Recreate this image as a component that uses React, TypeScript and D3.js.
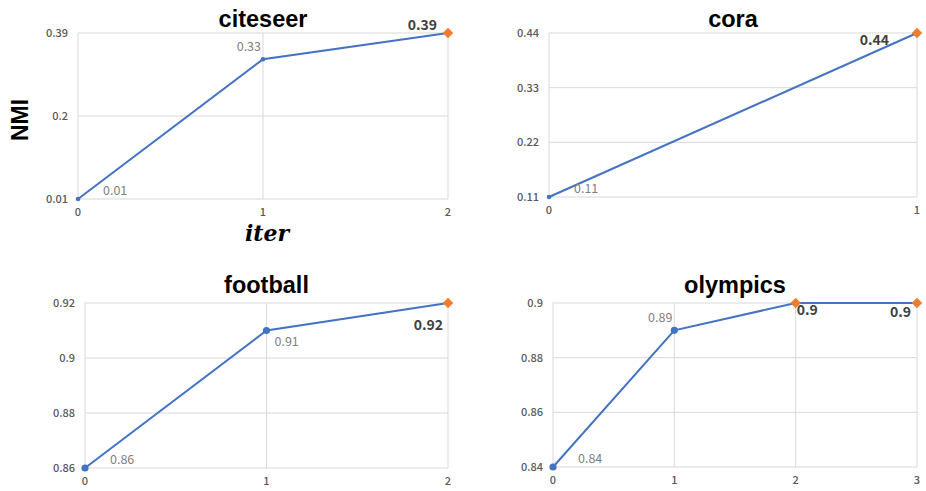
import * as d3 from "d3";
import React, { useEffect, useRef } from "react";

// NMI per iteration, one small chart per dataset
const citeseerNmi = [0.01, 0.33, 0.39];
const coraNmi = [0.11, 0.44];
const footballNmi = [0.86, 0.91, 0.92];
const olympicsNmi = [0.84, 0.89, 0.9, 0.9];

const citeseerTicks = [0.01, 0.2, 0.39];
const coraTicks = [0.11, 0.22, 0.33, 0.44];
const footballTicks = [0.86, 0.88, 0.9, 0.92];
const olympicsTicks = [0.84, 0.86, 0.88, 0.9];

// where each data label sits relative to its point
const citeseerPlace = ["right", "aboveLeft", "aboveLeftBold"];
const coraPlace = ["right", "belowLeftBold"];
const footballPlace = ["right", "belowRight", "belowLeftBold"];
const olympicsPlace = ["right", "aboveLeft", "belowRightBold", "belowLeftBold"];

// indices of the best (orange diamond) points
const citeseerBest = [2];
const coraBest = [1];
const footballBest = [2];
const olympicsBest = [2, 3];

interface Panel {
  title: string;
  values: number[];
  ticks: number[];
  place: string[];
  best: number[];
  box: { left: number; right: number; top: number; bottom: number };
  dotR: number;
  titleGap: number;
}

const panels: Panel[] = [
  { title: "citeseer", values: citeseerNmi, ticks: citeseerTicks, place: citeseerPlace, best: citeseerBest,
    box: { left: 78, right: 448, top: 33, bottom: 199 }, dotR: 2.3, titleGap: 6 },
  { title: "cora", values: coraNmi, ticks: coraTicks, place: coraPlace, best: coraBest,
    box: { left: 549, right: 917, top: 33, bottom: 197 }, dotR: 2.3, titleGap: 6 },
  { title: "football", values: footballNmi, ticks: footballTicks, place: footballPlace, best: footballBest,
    box: { left: 85, right: 448, top: 303, bottom: 468 }, dotR: 3.6, titleGap: 10 },
  { title: "olympics", values: olympicsNmi, ticks: olympicsTicks, place: olympicsPlace, best: olympicsBest,
    box: { left: 553, right: 917, top: 303, bottom: 467 }, dotR: 3.6, titleGap: 10 },
];

const FONT = "'Noto Sans CJK JP', 'Noto Sans', sans-serif";

const App: React.FC = () => {
  const ref = useRef<SVGSVGElement | null>(null);

  useEffect(() => {
    if (!ref.current) return;
    const svg = d3.select(ref.current);
    svg.selectAll("*").remove();

    panels.forEach((p) => {
      const { left, right, top, bottom } = p.box;
      const n = p.values.length;
      const x = d3.scaleLinear().domain([0, n - 1]).range([left, right]);
      const y = d3
        .scaleLinear()
        .domain([p.ticks[0], p.ticks[p.ticks.length - 1]])
        .range([bottom, top]);

      const g = svg.append("g");

      // gridlines
      g.selectAll(".hg")
        .data(p.ticks)
        .enter()
        .append("line")
        .attr("x1", left)
        .attr("x2", right)
        .attr("y1", (d) => y(d))
        .attr("y2", (d) => y(d))
        .attr("stroke", "#d9d9d9")
        .attr("stroke-width", 1);
      g.selectAll(".vg")
        .data(d3.range(n))
        .enter()
        .append("line")
        .attr("x1", (d) => x(d))
        .attr("x2", (d) => x(d))
        .attr("y1", top)
        .attr("y2", bottom)
        .attr("stroke", "#d9d9d9")
        .attr("stroke-width", 1);

      // y tick labels
      g.selectAll(".yt")
        .data(p.ticks)
        .enter()
        .append("text")
        .attr("x", left - 10)
        .attr("y", (d) => y(d))
        .attr("dy", "0.35em")
        .attr("text-anchor", "end")
        .attr("font-family", FONT)
        .attr("font-size", 11)
        .attr("font-weight", 500)
        .attr("fill", "#595959")
        .text((d) => String(d));

      // x tick labels
      g.selectAll(".xt")
        .data(d3.range(n))
        .enter()
        .append("text")
        .attr("x", (d) => x(d))
        .attr("y", bottom + 13)
        .attr("dy", "0.35em")
        .attr("text-anchor", "middle")
        .attr("font-family", FONT)
        .attr("font-size", 11)
        .attr("font-weight", 500)
        .attr("fill", "#595959")
        .text((d) => String(d));

      // title
      g.append("text")
        .attr("x", (left + right) / 2)
        .attr("y", top - p.titleGap)
        .attr("text-anchor", "middle")
        .attr("font-family", "'Liberation Sans', Arial, sans-serif")
        .attr("font-weight", "bold")
        .attr("font-size", 23.5)
        .attr("fill", "#000")
        .text(p.title);

      // line
      const line = d3
        .line<number>()
        .x((_d, i) => x(i))
        .y((d) => y(d));
      g.append("path")
        .datum(p.values)
        .attr("d", line)
        .attr("fill", "none")
        .attr("stroke", "#4472c4")
        .attr("stroke-width", 2);

      const pts = p.values.map((v, i) => ({ v, i, best: p.best.includes(i) }));

      // normal points
      g.selectAll(".dot")
        .data(pts.filter((d) => !d.best))
        .enter()
        .append("circle")
        .attr("cx", (d) => x(d.i))
        .attr("cy", (d) => y(d.v))
        .attr("r", p.dotR)
        .attr("fill", "#4472c4");

      // best points
      g.selectAll(".best")
        .data(pts.filter((d) => d.best))
        .enter()
        .append("path")
        .attr("d", d3.symbol(d3.symbolDiamond2, 70)())
        .attr("transform", (d) => `translate(${x(d.i)},${y(d.v)})`)
        .attr("fill", "#ed7d31");

      // data labels
      pts.forEach((d) => {
        const place = p.place[d.i];
        const bold = place.endsWith("Bold");
        const px = x(d.i);
        const py = y(d.v);
        let tx = px;
        let ty = py;
        let anchor = "start";
        if (place.startsWith("right")) {
          tx = px + 25;
          ty = py - 8;
        } else if (place.startsWith("aboveLeft")) {
          tx = px - 2;
          ty = py - 13;
          anchor = "end";
        } else if (place.startsWith("belowRight")) {
          tx = px + 8;
          ty = py + 11;
        } else if (place.startsWith("belowLeft")) {
          tx = px - 6;
          ty = py + (bold ? 9 : 11);
          anchor = "end";
        }
        if (place === "aboveLeftBold") {
          tx = px - 11;
          ty = py - 8;
        }
        if (place === "belowLeftBold" && p.title !== "olympics") {
          tx = px - 5;
          ty = py + 22;
        }
        if (place === "belowLeftBold" && p.title === "cora") {
          tx = px - 28;
          ty = py + 7;
        }
        if (place === "belowRightBold") {
          tx = px + 1;
          ty = py + 7;
        }
        g.append("text")
          .attr("x", tx)
          .attr("y", ty)
          .attr("dy", "0.35em")
          .attr("text-anchor", anchor)
          .attr("font-family", FONT)
          .attr("font-size", bold ? 14 : 12.5)
          .attr("font-weight", bold ? 700 : 400)
          .attr("fill", bold ? "#404040" : "#7f7f7f")
          .text(String(d.v));
      });
    });

    // axis titles on the first panel
    svg
      .append("text")
      .attr("transform", "translate(20,120) rotate(-90)")
      .attr("dy", "0.35em")
      .attr("text-anchor", "middle")
      .attr("font-family", "'Liberation Sans', Arial, sans-serif")
      .attr("font-weight", "bold")
      .attr("font-size", 23)
      .attr("fill", "#000")
      .text("NMI");

    svg
      .append("text")
      .attr("x", 267)
      .attr("y", 233)
      .attr("dy", "0.35em")
      .attr("text-anchor", "middle")
      .attr("font-family", "'DejaVu Serif', serif")
      .attr("font-style", "italic")
      .attr("font-weight", "bold")
      .attr("font-size", 22)
      .attr("fill", "#000")
      .text("iter");
  }, []);

  return (
    <svg
      ref={ref}
      width={926}
      height={491}
      style={{ position: "absolute", left: 0, top: 0, background: "#fff" }}
    ></svg>
  );
};

export default App;
